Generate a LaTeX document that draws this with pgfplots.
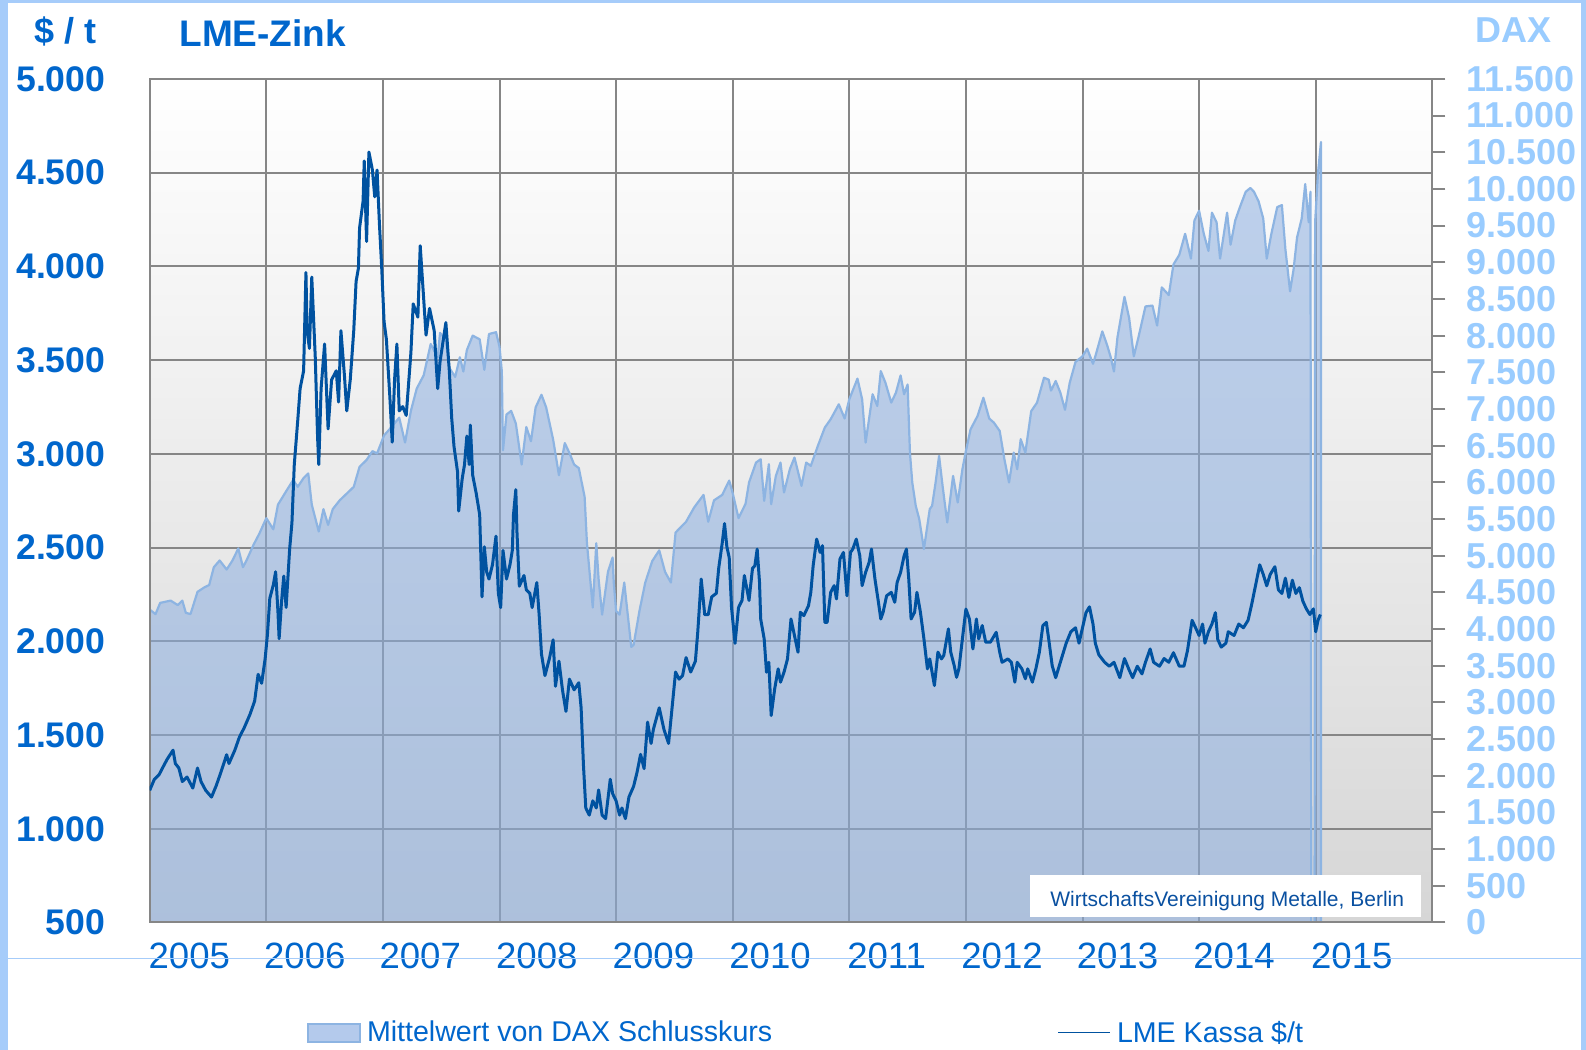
\documentclass[border=0pt]{standalone}
\usepackage{pgfplots}
\pgfplotsset{compat=1.18}
\usepackage{fontspec}
\setmainfont{Liberation Sans}
\definecolor{labblue}{RGB}{0,102,204}
\definecolor{daxlab}{RGB}{153,204,255}
\definecolor{zinc}{RGB}{0,82,160}
\definecolor{daxline}{RGB}{141,180,226}
\definecolor{daxfill}{RGB}{140,175,225}
\definecolor{gridgray}{RGB}{134,134,134}
\definecolor{bggray}{RGB}{214,214,214}
\definecolor{frame}{RGB}{166,204,250}
\definecolor{credit}{RGB}{10,80,160}
\definecolor{patch}{RGB}{180,202,236}

\begin{document}
\begin{tikzpicture}
\useasboundingbox (0,0) rectangle (793pt,525pt);
\fill[white] (0,0) rectangle (793pt,525pt);

% right axis: DAX area, background and grid
\begin{axis}[at={(74.85pt,63.75pt)},anchor=south west,
  width=641.3pt,height=421.8pt,scale only axis,
  xmin=2005,xmax=2016,ymin=0,ymax=11500,
  scaled y ticks=false,
  axis background/.style={shade,top color=white,bottom color=bggray},
  axis line style={draw=none},
  xtick={2006,2007,2008,2009,2010,2011,2012,2013,2014,2015},
  xticklabels={},xmajorgrids,xtick style={draw=none},
  ytick={0,500,...,11500},
  yticklabels={0,500,1.000,1.500,2.000,2.500,3.000,3.500,4.000,4.500,5.000,5.500,6.000,6.500,7.000,7.500,8.000,8.500,9.000,9.500,10.000,10.500,11.000,11.500},
  ytick pos=right,yticklabel pos=right,tick align=outside,
  major tick length=6.5pt,
  ytick style={gridgray,line width=1pt},
  extra y ticks={1277.78,2555.56,3833.33,5111.11,6388.89,7666.67,8944.44,10222.22},
  extra y tick labels={},
  extra y tick style={grid=major,major tick length=0pt},
  grid style={gridgray,line width=1pt},
  yticklabel style={anchor=west,inner sep=0pt,xshift=10.5pt,text=daxlab,
    font=\fontsize{18}{18}\selectfont\bfseries},
]
\addplot[draw=daxline,line width=1.1pt,line join=round,fill=daxfill,fill opacity=0.55,draw opacity=1]
coordinates {(2005.00,4266) (2005.05,4204) (2005.09,4357) (2005.18,4388) (2005.24,4327) (2005.28,4388) (2005.31,4221) (2005.35,4204) (2005.41,4507) (2005.47,4570) (2005.51,4600) (2005.55,4843) (2005.60,4935) (2005.66,4812) (2005.71,4935) (2005.76,5099) (2005.80,4843) (2005.83,4935) (2005.89,5147) (2005.94,5300) (2006.00,5512) (2006.06,5360) (2006.10,5696) (2006.17,5878) (2006.23,6031) (2006.27,5939) (2006.32,6060) (2006.36,6121) (2006.39,5696) (2006.45,5330) (2006.49,5635) (2006.53,5420) (2006.57,5635) (2006.63,5756) (2006.69,5847) (2006.75,5939) (2006.80,6213) (2006.86,6305) (2006.91,6425) (2006.95,6394) (2007.01,6640) (2007.06,6729) (2007.14,6882) (2007.19,6543) (2007.24,6974) (2007.29,7278) (2007.35,7460) (2007.41,7886) (2007.47,7703) (2007.49,8038) (2007.54,7947) (2007.57,7560) (2007.62,7437) (2007.66,7705) (2007.69,7511) (2007.72,7803) (2007.77,8000) (2007.83,7950) (2007.87,7534) (2007.91,8022) (2007.97,8047) (2008.00,7851) (2008.02,7511) (2008.03,6437) (2008.06,6925) (2008.10,6974) (2008.14,6803) (2008.19,6243) (2008.23,6754) (2008.27,6560) (2008.31,7023) (2008.36,7194) (2008.40,7023) (2008.46,6583) (2008.51,6097) (2008.56,6535) (2008.60,6400) (2008.64,6243) (2008.68,6195) (2008.73,5804) (2008.75,5170) (2008.80,4293) (2008.83,5170) (2008.85,4682) (2008.88,4196) (2008.93,4779) (2008.97,4976) (2008.98,4634) (2009.00,4245) (2009.03,4196) (2009.07,4634) (2009.13,3757) (2009.15,3783) (2009.20,4245) (2009.25,4634) (2009.31,4927) (2009.37,5073) (2009.42,4779) (2009.47,4634) (2009.51,5316) (2009.60,5463) (2009.67,5659) (2009.75,5829) (2009.79,5463) (2009.84,5755) (2009.91,5829) (2009.97,6024) (2010.00,5853) (2010.05,5512) (2010.11,5707) (2010.14,5998) (2010.20,6270) (2010.24,6315) (2010.27,5748) (2010.31,6247) (2010.33,5702) (2010.37,6088) (2010.41,6270) (2010.44,5862) (2010.49,6179) (2010.53,6338) (2010.59,5952) (2010.63,6270) (2010.67,6225) (2010.73,6496) (2010.79,6747) (2010.84,6860) (2010.91,7064) (2010.96,6870) (2011.00,7133) (2011.07,7414) (2011.11,7133) (2011.14,6542) (2011.20,7200) (2011.24,7041) (2011.27,7516) (2011.31,7357) (2011.36,7087) (2011.40,7223) (2011.44,7458) (2011.47,7200) (2011.50,7334) (2011.52,6406) (2011.54,5998) (2011.57,5679) (2011.60,5498) (2011.64,5091) (2011.69,5636) (2011.71,5680) (2011.74,5998) (2011.77,6361) (2011.80,5952) (2011.84,5452) (2011.89,6088) (2011.93,5725) (2011.97,6179) (2012.00,6427) (2012.04,6723) (2012.10,6905) (2012.15,7153) (2012.20,6870) (2012.24,6814) (2012.29,6700) (2012.33,6315) (2012.37,5998) (2012.41,6406) (2012.44,6179) (2012.47,6588) (2012.51,6406) (2012.56,6970) (2012.61,7087) (2012.67,7426) (2012.71,7400) (2012.73,7251) (2012.77,7381) (2012.81,7223) (2012.85,6989) (2012.89,7355) (2012.94,7642) (2013.00,7718) (2013.04,7823) (2013.09,7616) (2013.11,7718) (2013.17,8058) (2013.21,7876) (2013.24,7718) (2013.27,7511) (2013.30,7979) (2013.36,8528) (2013.40,8240) (2013.44,7718) (2013.48,7979) (2013.54,8398) (2013.60,8410) (2013.64,8137) (2013.68,8658) (2013.74,8553) (2013.78,8970) (2013.83,9101) (2013.88,9388) (2013.93,9050) (2013.96,9571) (2014.00,9702) (2014.04,9390) (2014.08,9155) (2014.11,9676) (2014.15,9545) (2014.18,9050) (2014.24,9676) (2014.27,9240) (2014.31,9571) (2014.35,9752) (2014.40,9962) (2014.44,10013) (2014.47,9962) (2014.51,9832) (2014.55,9597) (2014.58,9050) (2014.62,9390) (2014.67,9752) (2014.71,9780) (2014.74,9180) (2014.78,8604) (2014.81,8900) (2014.84,9337) (2014.88,9597) (2014.91,10066) (2014.94,9545) (2014.955,9962) (2014.962,0) (2014.99,0) (2014.995,9545) (2015.02,10222) (2015.045,10640)}
\closedcycle;
\end{axis}

% left axis: zinc
\begin{axis}[at={(74.85pt,63.75pt)},anchor=south west,
  width=641.3pt,height=421.8pt,scale only axis,
  xmin=2005,xmax=2016,ymin=500,ymax=5000,
  axis line style={gridgray,line width=1pt},
  xtick={2005.34,2006.33,2007.32,2008.32,2009.32,2010.32,2011.32,2012.31,2013.30,2014.30,2015.31},
  xticklabels={2005,2006,2007,2008,2009,2010,2011,2012,2013,2014,2015},
  ytick={500,1000,...,5000},
  yticklabels={500,1.000,1.500,2.000,2.500,3.000,3.500,4.000,4.500,5.000},
  major tick length=0pt,tick style={draw=none},
  xtick pos=bottom,ytick pos=left,
  yticklabel style={anchor=east,inner sep=0pt,xshift=-22pt,text=labblue,
    font=\fontsize{17.8}{18}\selectfont\bfseries},
  xticklabel style={anchor=north,inner sep=0pt,yshift=-10pt,text=labblue,
    font=\fontsize{18.3}{18}\selectfont},
]
\addplot[zinc,line width=1.5pt,line join=round]
coordinates {(2005.00,1205) (2005.04,1264) (2005.08,1288) (2005.12,1336) (2005.15,1371) (2005.20,1419) (2005.22,1348) (2005.25,1324) (2005.28,1252) (2005.32,1276) (2005.37,1217) (2005.41,1324) (2005.44,1252) (2005.48,1205) (2005.53,1169) (2005.57,1229) (2005.61,1300) (2005.66,1395) (2005.68,1348) (2005.73,1419) (2005.77,1490) (2005.81,1538) (2005.86,1610) (2005.90,1681) (2005.93,1824) (2005.96,1776) (2005.99,1907) (2006.01,2038) (2006.03,2229) (2006.06,2300) (2006.08,2371) (2006.10,2157) (2006.11,2014) (2006.13,2205) (2006.15,2348) (2006.17,2181) (2006.20,2490) (2006.22,2633) (2006.24,2943) (2006.27,3181) (2006.29,3348) (2006.32,3443) (2006.34,3967) (2006.35,3657) (2006.37,3562) (2006.39,3943) (2006.42,3514) (2006.44,3086) (2006.45,2943) (2006.47,3348) (2006.50,3586) (2006.53,3133) (2006.56,3395) (2006.60,3443) (2006.62,3276) (2006.64,3657) (2006.67,3419) (2006.69,3229) (2006.72,3395) (2006.75,3657) (2006.77,3919) (2006.79,3990) (2006.80,4205) (2006.83,4348) (2006.84,4562) (2006.86,4133) (2006.88,4610) (2006.91,4514) (2006.93,4371) (2006.95,4514) (2006.97,4229) (2006.99,3990) (2007.01,3705) (2007.03,3610) (2007.06,3300) (2007.08,3062) (2007.10,3395) (2007.12,3586) (2007.14,3229) (2007.17,3252) (2007.20,3205) (2007.24,3538) (2007.26,3800) (2007.30,3729) (2007.32,4110) (2007.35,3824) (2007.37,3633) (2007.40,3776) (2007.44,3657) (2007.47,3348) (2007.49,3491) (2007.54,3700) (2007.57,3439) (2007.59,3191) (2007.61,3038) (2007.64,2905) (2007.65,2695) (2007.68,2867) (2007.70,2943) (2007.72,3095) (2007.74,2943) (2007.75,3153) (2007.77,2886) (2007.80,2790) (2007.83,2676) (2007.85,2237) (2007.87,2504) (2007.89,2370) (2007.91,2332) (2007.94,2409) (2007.97,2561) (2007.99,2256) (2008.01,2180) (2008.03,2485) (2008.06,2332) (2008.09,2409) (2008.11,2485) (2008.12,2676) (2008.14,2809) (2008.15,2580) (2008.17,2294) (2008.21,2351) (2008.23,2275) (2008.26,2256) (2008.28,2180) (2008.32,2313) (2008.34,2142) (2008.36,1932) (2008.39,1817) (2008.43,1913) (2008.46,2008) (2008.48,1760) (2008.51,1894) (2008.54,1741) (2008.57,1626) (2008.60,1798) (2008.64,1741) (2008.68,1779) (2008.70,1645) (2008.72,1340) (2008.74,1111) (2008.77,1073) (2008.80,1149) (2008.83,1111) (2008.85,1207) (2008.88,1073) (2008.91,1054) (2008.95,1264) (2008.97,1188) (2009.00,1149) (2009.03,1073) (2009.05,1111) (2009.08,1054) (2009.11,1169) (2009.15,1226) (2009.18,1302) (2009.21,1397) (2009.24,1321) (2009.27,1569) (2009.30,1455) (2009.32,1531) (2009.37,1645) (2009.41,1531) (2009.45,1455) (2009.48,1645) (2009.51,1836) (2009.54,1798) (2009.57,1817) (2009.60,1913) (2009.64,1836) (2009.68,1894) (2009.70,2046) (2009.73,2332) (2009.76,2142) (2009.79,2142) (2009.82,2237) (2009.86,2256) (2009.88,2390) (2009.91,2523) (2009.93,2628) (2009.95,2504) (2009.97,2447) (2009.99,2180) (2010.02,1989) (2010.05,2180) (2010.08,2218) (2010.10,2351) (2010.14,2218) (2010.17,2390) (2010.19,2403) (2010.21,2492) (2010.23,2314) (2010.24,2119) (2010.27,2013) (2010.29,1835) (2010.31,1888) (2010.33,1604) (2010.36,1746) (2010.39,1853) (2010.41,1782) (2010.44,1835) (2010.47,1906) (2010.50,2119) (2010.53,2030) (2010.56,1942) (2010.58,2155) (2010.61,2137) (2010.65,2190) (2010.67,2261) (2010.69,2403) (2010.72,2545) (2010.75,2474) (2010.77,2510) (2010.79,2101) (2010.81,2101) (2010.84,2261) (2010.87,2297) (2010.89,2226) (2010.92,2439) (2010.95,2474) (2010.98,2243) (2011.01,2474) (2011.03,2492) (2011.06,2545) (2011.09,2456) (2011.11,2297) (2011.14,2368) (2011.17,2421) (2011.19,2492) (2011.22,2332) (2011.25,2208) (2011.27,2119) (2011.29,2155) (2011.32,2243) (2011.36,2261) (2011.39,2208) (2011.41,2314) (2011.44,2368) (2011.47,2456) (2011.49,2492) (2011.51,2332) (2011.53,2119) (2011.56,2155) (2011.58,2261) (2011.61,2155) (2011.64,2013) (2011.67,1853) (2011.69,1906) (2011.73,1764) (2011.76,1942) (2011.79,1906) (2011.81,1924) (2011.85,2066) (2011.87,1942) (2011.90,1870) (2011.92,1808) (2011.94,1853) (2011.97,2013) (2012.00,2172) (2012.03,2119) (2012.06,1959) (2012.09,2119) (2012.11,2013) (2012.14,2084) (2012.17,1995) (2012.21,1995) (2012.26,2048) (2012.29,1942) (2012.31,1888) (2012.36,1906) (2012.39,1888) (2012.42,1782) (2012.44,1888) (2012.48,1853) (2012.51,1800) (2012.53,1853) (2012.57,1782) (2012.60,1853) (2012.63,1942) (2012.66,2084) (2012.69,2101) (2012.71,2013) (2012.74,1870) (2012.77,1806) (2012.81,1888) (2012.86,1990) (2012.90,2051) (2012.94,2072) (2012.97,1990) (2013.00,2072) (2013.03,2153) (2013.06,2184) (2013.09,2092) (2013.11,1990) (2013.14,1928) (2013.19,1888) (2013.23,1867) (2013.27,1888) (2013.32,1806) (2013.36,1908) (2013.40,1847) (2013.43,1806) (2013.47,1867) (2013.51,1826) (2013.54,1888) (2013.58,1959) (2013.61,1888) (2013.66,1867) (2013.70,1908) (2013.74,1888) (2013.78,1939) (2013.83,1867) (2013.87,1867) (2013.90,1949) (2013.94,2112) (2013.97,2072) (2014.00,2031) (2014.03,2092) (2014.05,1990) (2014.08,2051) (2014.11,2092) (2014.14,2153) (2014.16,2010) (2014.19,1969) (2014.23,1990) (2014.25,2051) (2014.30,2031) (2014.34,2092) (2014.38,2072) (2014.42,2112) (2014.45,2194) (2014.49,2316) (2014.52,2408) (2014.55,2357) (2014.58,2296) (2014.61,2357) (2014.65,2398) (2014.68,2275) (2014.71,2255) (2014.74,2337) (2014.77,2234) (2014.80,2326) (2014.83,2255) (2014.86,2286) (2014.89,2214) (2014.92,2173) (2014.95,2143) (2014.98,2173) (2015.00,2051) (2015.02,2112) (2015.04,2143)};
\end{axis}

% frame, titles, credit and legend
\fill[frame] (0,0) rectangle (4pt,525pt);
\fill[frame] (0,523.5pt) rectangle (793pt,525pt);
\fill[frame] (790.5pt,0) rectangle (793pt,525pt);
\draw[frame,line width=0.5pt] (4pt,45.5pt) -- (790.5pt,45.5pt);

\node[anchor=base,inner sep=0pt,text=labblue,font=\fontsize{18}{18}\selectfont\bfseries] at (32.9pt,503.3pt) {\$ / t};
\node[anchor=base west,inner sep=0pt,text=labblue,font=\fontsize{18.5}{18}\selectfont\bfseries] at (89.5pt,501.9pt) {LME-Zink};
\node[anchor=base west,inner sep=0pt,text=daxlab,font=\fontsize{18}{18}\selectfont\bfseries] at (737.5pt,503.7pt) {DAX};

\fill[white] (515pt,66.7pt) rectangle (710.5pt,87.5pt);
\node[anchor=base west,inner sep=0pt,text=credit,font=\fontsize{10.5}{12}\selectfont] at (525pt,71.7pt) {WirtschaftsVereinigung Metalle, Berlin};

\filldraw[fill=patch,draw=daxline,line width=1pt] (154pt,4pt) rectangle (180pt,13pt);
\node[anchor=base west,inner sep=0pt,text=labblue,font=\fontsize{14.3}{16}\selectfont] at (183.3pt,4pt) {Mittelwert von DAX Schlusskurs};
\draw[zinc,line width=0.9pt] (529pt,8.7pt) -- (555pt,8.7pt);
\node[anchor=base west,inner sep=0pt,text=labblue,font=\fontsize{14.3}{16}\selectfont] at (558.3pt,3.7pt) {LME Kassa \$/t};
\end{tikzpicture}
\end{document}
